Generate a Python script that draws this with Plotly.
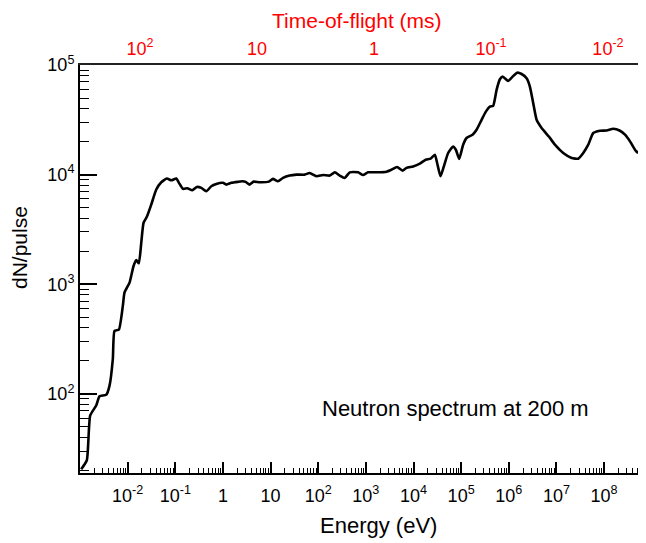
import numpy as np
import plotly.graph_objects as go

# Curve, as log10 values
log_energy = [-2.975, -2.857, -2.786, -2.660, -2.590, -2.450, -2.380, -2.311, -2.275, -2.185,
              -2.101, -2.065, -1.960, -1.876, -1.819, -1.765, -1.714, -1.666, -1.597, -1.504,
              -1.399, -1.294, -1.176, -1.084, -0.979, -0.924, -0.840, -0.748, -0.643, -0.546,
              -0.454, -0.349, -0.244, -0.139, 0.000, 0.071, 0.176, 0.315, 0.408, 0.477,
              0.561, 0.645, 0.771, 0.966, 1.050, 1.155, 1.261, 1.401, 1.542, 1.716,
              1.821, 1.962, 2.101, 2.242, 2.347, 2.452, 2.557, 2.662, 2.836, 2.941,
              3.046, 3.223, 3.433, 3.538, 3.655, 3.769, 3.853, 3.992, 4.132, 4.258,
              4.357, 4.448, 4.496, 4.567, 4.637, 4.727, 4.832, 4.889, 4.958, 5.042,
              5.113, 5.239, 5.324, 5.429, 5.519, 5.603, 5.672, 5.744, 5.813, 5.870,
              5.918, 5.987, 6.080, 6.176, 6.269, 6.374, 6.443, 6.513, 6.584, 6.689,
              6.849, 6.968, 7.143, 7.319, 7.458, 7.563, 7.668, 7.773, 7.914, 8.055,
              8.193, 8.334, 8.439, 8.544, 8.649, 8.697, 8.790, 8.880]
log_counts = [1.312, 1.394, 1.803, 1.894, 1.979, 1.991, 2.075, 2.318, 2.575, 2.585,
              2.803, 2.925, 3.015, 3.166, 3.221, 3.191, 3.379, 3.561, 3.615, 3.727,
              3.864, 3.930, 3.964, 3.948, 3.964, 3.925, 3.870, 3.875, 3.857, 3.888,
              3.879, 3.848, 3.894, 3.915, 3.925, 3.909, 3.925, 3.934, 3.939, 3.934,
              3.909, 3.936, 3.930, 3.936, 3.961, 3.939, 3.970, 3.991, 4.000, 4.000,
              4.015, 3.985, 3.997, 3.991, 4.021, 3.991, 3.970, 4.021, 4.021, 3.997,
              4.021, 4.021, 4.027, 4.045, 4.070, 4.036, 4.061, 4.075, 4.100, 4.136,
              4.145, 4.182, 4.106, 3.985, 4.075, 4.197, 4.257, 4.227, 4.143, 4.273,
              4.334, 4.364, 4.409, 4.500, 4.575, 4.621, 4.627, 4.773, 4.870, 4.894,
              4.879, 4.855, 4.894, 4.930, 4.918, 4.879, 4.803, 4.652, 4.500, 4.425,
              4.343, 4.273, 4.197, 4.152, 4.145, 4.197, 4.273, 4.379, 4.400, 4.403,
              4.418, 4.400, 4.364, 4.303, 4.227, 4.203, 4.227, 4.203]

energy = 10 ** np.array(log_energy)
counts = 10 ** np.array(log_counts)

energy_tickvals = [1e-2, 1e-1, 1, 10, 1e2, 1e3, 1e4, 1e5, 1e6, 1e7, 1e8]
energy_ticktext = ["10<sup>-2</sup>", "10<sup>-1</sup>", "1", "10", "10<sup>2</sup>",
                   "10<sup>3</sup>", "10<sup>4</sup>", "10<sup>5</sup>", "10<sup>6</sup>",
                   "10<sup>7</sup>", "10<sup>8</sup>"]
count_tickvals = [1e2, 1e3, 1e4, 1e5]
count_ticktext = ["10<sup>2</sup>", "10<sup>3</sup>", "10<sup>4</sup>", "10<sup>5</sup>"]
tof_tickvals = [100, 10, 1, 0.1, 0.01]
tof_ticktext = ["10<sup>2</sup>", "10", "1", "10<sup>-1</sup>", "10<sup>-2</sup>"]

FONT = "Liberation Sans, Arial, sans-serif"

def minor_vals(lo, hi):
    out = []
    for k in range(lo, hi + 1):
        for m in range(2, 10):
            out.append(m * 10.0 ** k)
    return out

fig = go.Figure()
fig.add_trace(go.Scatter(x=energy, y=counts, mode="lines",
                         line=dict(color="black", width=2.6, shape="spline", smoothing=0.5),
                         showlegend=False, hoverinfo="skip"))
# empty trace so that the top (time-of-flight) axis gets drawn
fig.add_trace(go.Scatter(x=[], y=[], xaxis="x2", yaxis="y", mode="lines",
                         showlegend=False, hoverinfo="skip"))

# the page body has an 8 px default margin, so the figure starts at page (8, 8)
OFF = 8
W, H = 646 - OFF, 543 - OFF
PLOT_L, PLOT_T, PLOT_B, PLOT_R = 80, 65, 473, 646   # page pixels
L = PLOT_L - OFF
T = PLOT_T - OFF
B = H - (PLOT_B - OFF)
R = W - (PLOT_R - OFF)

fig.update_layout(
    width=W, height=H,
    margin=dict(l=L, r=R, t=T, b=B),
    paper_bgcolor="white", plot_bgcolor="white",
    font=dict(family=FONT, size=18, color="black"),
    xaxis=dict(type="log", range=[-3.0, 8.88], showgrid=False, zeroline=False,
               showline=True, linecolor="black", linewidth=2,
               tickmode="array", tickvals=energy_tickvals, ticktext=energy_ticktext,
               ticks="inside", ticklen=11, tickwidth=1.5, tickcolor="black",
               ticklabelstandoff=5,
               minor=dict(tickmode="array", tickvals=minor_vals(-3, 8),
                          ticks="inside", ticklen=5, tickwidth=1.2, tickcolor="black",
                          showgrid=False),
               tickfont=dict(size=18, color="black")),
    xaxis2=dict(type="log", range=[2.513, -2.325], overlaying="x", side="top",
                anchor="y", showgrid=False, zeroline=False,
                showline=True, linecolor="#222", linewidth=2,
                tickmode="array", tickvals=tof_tickvals, ticktext=tof_ticktext,
                ticks="", ticklabelstandoff=1,
                tickfont=dict(size=18, color="red")),
    yaxis=dict(type="log", range=[1.278, 5.0], showgrid=False, zeroline=False,
               showline=True, linecolor="black", linewidth=2,
               tickmode="array", tickvals=count_tickvals, ticktext=count_ticktext,
               ticks="inside", ticklen=17, tickwidth=1.5, tickcolor="black",
               ticklabelstandoff=0,
               minor=dict(tickmode="array", tickvals=minor_vals(1, 4),
                          ticks="inside", ticklen=9, tickwidth=1.2, tickcolor="black",
                          showgrid=False),
               tickfont=dict(size=18, color="black")),
)

pw = PLOT_R - PLOT_L
ph = PLOT_B - PLOT_T

def px(x):
    return (x - PLOT_L) / pw

def py(y):
    return (PLOT_B - y) / ph

fig.add_annotation(text="Energy (eV)", x=px(378), y=py(525), xref="paper", yref="paper",
                   showarrow=False, font=dict(size=22, color="black", family=FONT),
                   xanchor="center", yanchor="middle")
fig.add_annotation(text="Time-of-flight (ms)", x=px(357), y=py(OFF), xref="paper", yref="paper",
                   showarrow=False, font=dict(size=21, color="red", family=FONT),
                   xanchor="center", yanchor="top", borderpad=0)
fig.add_annotation(text="dN/pulse", x=px(20), y=py(248), xref="paper", yref="paper",
                   showarrow=False, textangle=-90, font=dict(size=21, color="black", family=FONT),
                   xanchor="center", yanchor="middle")
fig.add_annotation(text="Neutron spectrum at 200 m", x=px(455), y=py(408), xref="paper", yref="paper",
                   showarrow=False, font=dict(size=22, color="black", family=FONT),
                   xanchor="center", yanchor="middle")

fig.write_html("out.html")
